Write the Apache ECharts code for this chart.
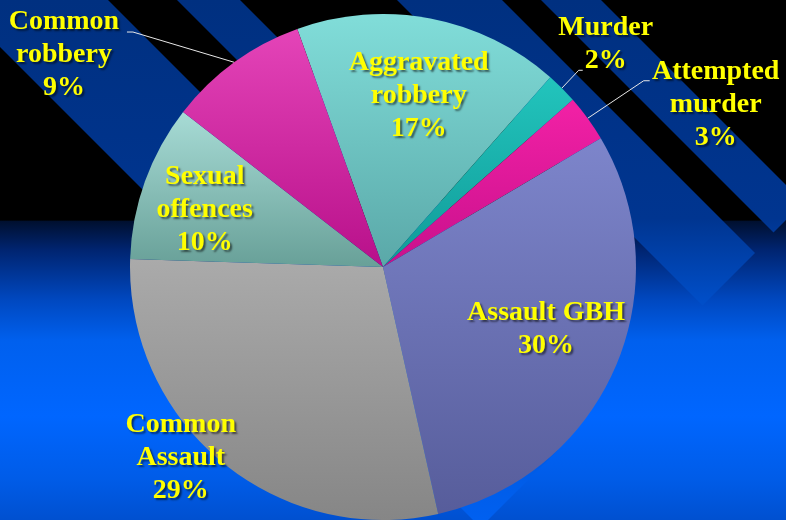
<!DOCTYPE html>
<html>
<head>
<meta charset="utf-8">
<script src="https://cdn.jsdelivr.net/npm/echarts@6.0.0/dist/echarts.min.js"></script>
<style>
  html, body { margin: 0; padding: 0; background: #000; }
  #main { width: 786px; height: 520px; }
</style>
</head>
<body>
<div id="main"></div>
<script>
// offences, clockwise from the top-left edge of the big teal slice
var categories = ['Aggravated robbery', 'Murder', 'Attempted murder', 'Assault GBH',
                  'Common Assault', 'Sexual offences', 'Common robbery'];
var percents = [17, 2, 3, 30, 29, 10, 9];

// slice shading: [yTop, colourTop, yBottom, colourBottom]
var shades = [
    [20,  '#80dcd8', 267, '#5aa8a8'],
    [80,  '#22c4bc', 267, '#109a98'],
    [110, '#f020a4', 267, '#c8108c'],
    [130, '#7e86cc', 520, '#565c9a'],
    [260, '#aaaaaa', 520, '#868686'],
    [110, '#a8dcd6', 267, '#68a098'],
    [30,  '#e444b8', 267, '#b8108a']
];

var CX = 383, CY = 267, R = 253, START = 109.8;

// label placement: [radius factor, angle nudge in degrees]
var labelPlace = [[0.69, 1], [1.245, 0], [1.463, 10], [0.69, -2.4], [1.10, 7], [0.74, -2], [1.514, -20.4]];
// leader line bend / end, relative to the label centre
var leader = {
    1: [[-27, 26], [-23, 26]],
    2: [[-72, -24], [-66, -24]],
    6: [[69, -23], [63, -23]]
};

function grad(y1, c1, y2, c2) {
    return new echarts.graphic.LinearGradient(0, y1, 0, y2, [
        {offset: 0, color: c1}, {offset: 1, color: c2}
    ], true);
}

function midAngle(i) {
    var before = 0;
    for (var k = 0; k < i; k++) before += percents[k];
    return (90 - START) + 3.6 * (before + percents[i] / 2);
}

function polar(deg, r) {
    var a = deg * Math.PI / 180;
    return [CX + r * Math.sin(a), CY - r * Math.cos(a)];
}

// diagonal background bands: x - y range and the x + y cut where each ends
var bands = [[-47, 108, 1008], [177, 240, 950], [397, 502, 1008], [541, 601, 1006]];
var bandFill = new echarts.graphic.LinearGradient(0, 0, 0, 520, [
    {offset: 0, color: '#003080'},
    {offset: 0.42, color: '#003590'},
    {offset: 0.58, color: '#004ec8'},
    {offset: 1, color: '#0060f0'}
], true);

var graphics = [{
    type: 'rect',
    z: -20,
    silent: true,
    shape: {x: 0, y: 0, width: 786, height: 520},
    style: {
        fill: new echarts.graphic.LinearGradient(0, 0, 0, 1, [
            {offset: 0, color: '#000000'},
            {offset: 0.423, color: '#000000'},
            {offset: 0.426, color: '#001030'},
            {offset: 0.48, color: '#002470'},
            {offset: 0.577, color: '#0048c0'},
            {offset: 0.655, color: '#0060ee'},
            {offset: 0.8, color: '#0066ff'},
            {offset: 0.92, color: '#005ce8'},
            {offset: 1, color: '#0050d0'}
        ])
    }
}];
bands.forEach(function (b) {
    var c = b[2];
    graphics.push({
        type: 'polygon',
        z: -10,
        silent: true,
        shape: {points: [[b[0], 0], [b[1], 0],
            [(c + b[1]) / 2, (c - b[1]) / 2], [(c + b[0]) / 2, (c - b[0]) / 2]]},
        style: {fill: bandFill}
    });
});

var pieData = categories.map(function (name, i) {
    var s = shades[i];
    return {
        name: name,
        value: percents[i],
        itemStyle: {color: grad(s[0], s[1], s[2], s[3])},
        labelLine: {show: !!leader[i]}
    };
});

var chart = echarts.init(document.getElementById('main'));
chart.setOption({
    animation: false,
    graphic: graphics,
    series: [{
        type: 'pie',
        center: [CX, CY],
        radius: R,
        startAngle: START,
        clockwise: true,
        avoidLabelOverlap: false,
        silent: true,
        itemStyle: {borderWidth: 0},
        label: {
            position: 'outside',
            color: '#ffff00',
            fontFamily: '"Liberation Serif", "Times New Roman", serif',
            fontWeight: 'bold',
            fontSize: 28,
            lineHeight: 33,
            textShadowColor: 'rgba(0,0,0,0.55)',
            textShadowBlur: 2,
            textShadowOffsetX: 2,
            textShadowOffsetY: 2,
            formatter: function (p) {
                var n = p.name === 'Assault GBH' ? p.name : p.name.replace(' ', '\n');
                return n + '\n' + p.value + '%';
            }
        },
        labelLine: {
            lineStyle: {color: '#e8e8e8', width: 1}
        },
        labelLayout: function (params) {
            var i = params.dataIndex;
            var m = midAngle(i);
            var p = polar(m + labelPlace[i][1], labelPlace[i][0] * R);
            var out = {x: p[0], y: p[1], align: 'center', verticalAlign: 'middle'};
            if (leader[i]) {
                var e = polar(m, R);
                out.labelLinePoints = [e,
                    [p[0] + leader[i][0][0], p[1] + leader[i][0][1]],
                    [p[0] + leader[i][1][0], p[1] + leader[i][1][1]]];
            }
            return out;
        },
        data: pieData
    }]
});
</script>
</body>
</html>
